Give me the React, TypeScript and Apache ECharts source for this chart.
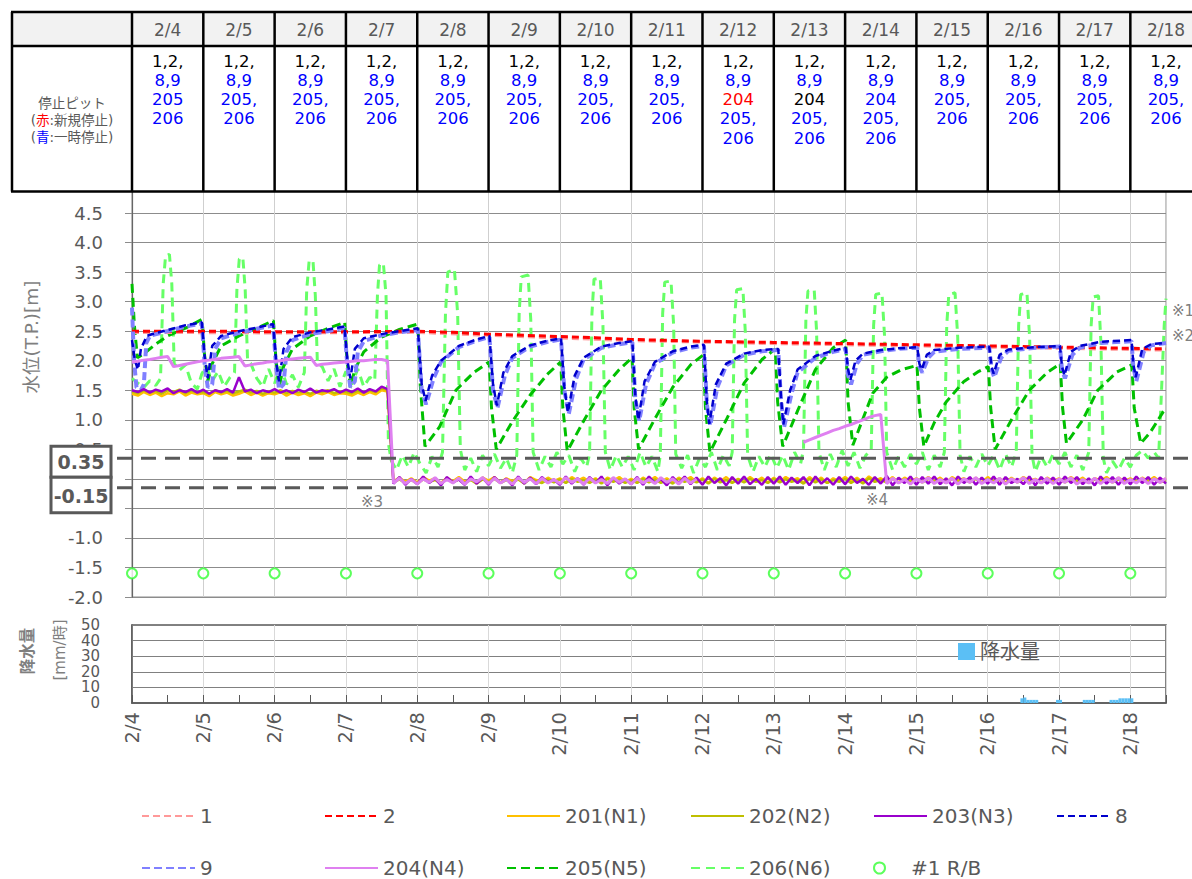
import React, { useEffect, useRef } from 'react';
import * as echarts from 'echarts';

const FONT = "'DejaVu Sans', 'Noto Sans CJK JP', sans-serif";
const LABEL = '#595959';

// ---- axis / table categories ----
const days = ['2/4', '2/5', '2/6', '2/7', '2/8', '2/9', '2/10', '2/11', '2/12', '2/13', '2/14', '2/15', '2/16', '2/17', '2/18'];
const dayHours = [0, 24, 48, 72, 96, 120, 144, 168, 192, 216, 240, 264, 288, 312, 336];
const X_MAX = 348; // hours from 2/4 00:00 (2/18 12:00)
const STEP = 2; // hours between values of the N-series arrays

// stop-pit table: [text, colour code]
const stopPits: [string, string][][] = [
  [['1,2,', 'k'], ['8,9', 'b'], ['205', 'b'], ['206', 'b']],
  [['1,2,', 'k'], ['8,9', 'b'], ['205,', 'b'], ['206', 'b']],
  [['1,2,', 'k'], ['8,9', 'b'], ['205,', 'b'], ['206', 'b']],
  [['1,2,', 'k'], ['8,9', 'b'], ['205,', 'b'], ['206', 'b']],
  [['1,2,', 'k'], ['8,9', 'b'], ['205,', 'b'], ['206', 'b']],
  [['1,2,', 'k'], ['8,9', 'b'], ['205,', 'b'], ['206', 'b']],
  [['1,2,', 'k'], ['8,9', 'b'], ['205,', 'b'], ['206', 'b']],
  [['1,2,', 'k'], ['8,9', 'b'], ['205,', 'b'], ['206', 'b']],
  [['1,2,', 'k'], ['8,9', 'b'], ['204', 'r'], ['205,', 'b'], ['206', 'b']],
  [['1,2,', 'k'], ['8,9', 'b'], ['204', 'k'], ['205,', 'b'], ['206', 'b']],
  [['1,2,', 'k'], ['8,9', 'b'], ['204', 'b'], ['205,', 'b'], ['206', 'b']],
  [['1,2,', 'k'], ['8,9', 'b'], ['205,', 'b'], ['206', 'b']],
  [['1,2,', 'k'], ['8,9', 'b'], ['205,', 'b'], ['206', 'b']],
  [['1,2,', 'k'], ['8,9', 'b'], ['205,', 'b'], ['206', 'b']],
  [['1,2,', 'k'], ['8,9', 'b'], ['205,', 'b'], ['206', 'b']],
];
const pitColor: Record<string, string> = { k: '#000000', b: '#0000ff', r: '#ff0000' };

// ---- water level series [hour, m] ----
const p1 = [[0, 2.48], [48, 2.47], [96, 2.48], [120, 2.43], [168, 2.34], [216, 2.29], [264, 2.25], [312, 2.21], [348, 2.18]];
const p2 = [[0, 2.5], [24, 2.5], [48, 2.49], [72, 2.49], [96, 2.5], [108, 2.48], [120, 2.45], [132, 2.43], [144, 2.41], [156, 2.39], [168, 2.36], [192, 2.33], [216, 2.31], [240, 2.29], [264, 2.27], [288, 2.25], [312, 2.23], [336, 2.21], [348, 2.2]];

const p8 = [
  [0, 2.35], [1, 2.0], [2, 1.85], [3, 2.2], [5, 2.42], [8, 2.47], [12, 2.52], [18, 2.6], [23.5, 2.65],
  [24.5, 2.05], [25.5, 1.7], [27, 2.25], [30, 2.42], [36, 2.5], [42, 2.56], [47.5, 2.62],
  [48.5, 2.0], [49.5, 1.65], [51, 2.2], [54, 2.4], [60, 2.48], [66, 2.53], [71.5, 2.58],
  [72.5, 2.0], [73.5, 1.7], [75, 2.2], [78, 2.38], [84, 2.45], [90, 2.5], [96.2, 2.55],
  [97.5, 1.6], [98.8, 1.32], [101, 1.75], [104, 2.0], [110, 2.25], [116, 2.36], [120.3, 2.42],
  [121.5, 1.6], [122.8, 1.24], [125, 1.8], [128, 2.08], [134, 2.26], [140, 2.34], [144.4, 2.38],
  [145.5, 1.55], [146.7, 1.13], [149, 1.75], [152, 2.05], [158, 2.24], [164, 2.3], [168.4, 2.33],
  [169.4, 1.4], [170.4, 1.0], [172.5, 1.65], [176, 1.98], [182, 2.16], [188, 2.24], [192.5, 2.27],
  [193.5, 1.3], [194.3, 0.93], [196.5, 1.6], [200, 1.95], [206, 2.12], [212, 2.18], [217.5, 2.2],
  [218.4, 1.4], [219.2, 0.92], [221.5, 1.5], [224, 1.85], [230, 2.08], [236, 2.17], [240.2, 2.22],
  [241, 1.85], [241.8, 1.68], [243.5, 2.0], [246, 2.12], [252, 2.18], [258, 2.21], [264.3, 2.23],
  [265, 1.95], [265.8, 1.85], [267.5, 2.1], [270, 2.18], [278, 2.22], [288.5, 2.24],
  [289.3, 1.9], [290, 1.78], [292, 2.1], [295, 2.19], [304, 2.23], [312.3, 2.25],
  [313, 1.9], [313.8, 1.75], [316, 2.15], [319, 2.25], [326, 2.32], [336.4, 2.35],
  [337, 1.95], [337.8, 1.72], [340, 2.2], [343, 2.28], [348, 2.3],
];

const p9 = [
  [0, 2.9], [0.7, 2.0], [1.5, 1.55], [3, 1.5], [4, 1.6], [4.8, 2.3], [6, 2.42], [12, 2.5], [18, 2.58], [23.5, 2.63],
  [24.5, 1.9], [25.5, 1.55], [27, 1.6], [28, 2.2], [30, 2.38], [36, 2.47], [42, 2.54], [47.5, 2.6],
  [48.5, 1.9], [49.5, 1.52], [51, 1.6], [52, 2.15], [54, 2.35], [60, 2.45], [66, 2.5], [71.5, 2.56],
  [72.5, 1.9], [73.5, 1.55], [75, 1.65], [76, 2.15], [78, 2.33], [84, 2.43], [90, 2.48], [96.2, 2.52],
  [97.5, 1.5], [99, 1.26], [101.5, 1.7], [104, 1.98], [110, 2.23], [116, 2.34], [120.3, 2.4],
  [121.5, 1.5], [123, 1.2], [125.5, 1.75], [128, 2.05], [134, 2.24], [140, 2.32], [144.4, 2.36],
  [145.5, 1.5], [147, 1.1], [149.5, 1.7], [152, 2.02], [158, 2.22], [164, 2.28], [168.4, 2.31],
  [169.4, 1.35], [170.7, 0.98], [173, 1.6], [176, 1.95], [182, 2.14], [188, 2.22], [192.5, 2.25],
  [193.5, 1.25], [194.6, 0.9], [197, 1.55], [200, 1.92], [206, 2.1], [212, 2.16], [217.5, 2.18],
  [218.4, 1.35], [219.5, 0.88], [222, 1.45], [224, 1.8], [230, 2.05], [236, 2.15], [240.2, 2.2],
  [241, 1.75], [242, 1.6], [244, 1.95], [246, 2.1], [252, 2.16], [258, 2.2], [264.3, 2.22],
  [265, 1.9], [266, 1.8], [268, 2.05], [270, 2.15], [278, 2.2], [288.5, 2.22],
  [289.3, 1.85], [290.2, 1.72], [292.5, 2.05], [295, 2.17], [304, 2.22], [312.3, 2.24],
  [313, 1.85], [314, 1.7], [316.5, 2.1], [319, 2.22], [326, 2.3], [336.4, 2.33],
  [337, 1.9], [338, 1.65], [340.5, 2.15], [343, 2.26], [348, 2.3],
];

const p205 = [
  [0, 3.3], [0.8, 2.6], [1.8, 2.05], [4, 2.12], [8, 2.28], [12, 2.42], [18, 2.55], [23.6, 2.7],
  [24.4, 2.1], [25.5, 1.65], [27, 1.95], [30, 2.25], [36, 2.42], [42, 2.55], [47.6, 2.68],
  [48.4, 2.05], [49.5, 1.55], [51, 1.9], [54, 2.2], [60, 2.42], [66, 2.55], [71.6, 2.65],
  [72.4, 2.0], [73.5, 1.55], [75, 1.85], [78, 2.15], [84, 2.4], [90, 2.53], [96.2, 2.62],
  [97, 1.6], [98.6, 0.55], [103.5, 0.88], [109, 1.5], [115, 1.8], [120.2, 1.98],
  [121, 1.2], [122.6, 0.5], [128, 0.97], [134, 1.42], [140, 1.78], [144.3, 1.98],
  [145, 1.2], [146.5, 0.47], [152, 0.98], [158, 1.5], [164, 1.85], [168.3, 2.05],
  [169, 1.2], [170.5, 0.5], [176, 1.02], [182, 1.55], [188, 1.93], [192.3, 2.1],
  [193, 1.2], [194.5, 0.45], [200, 1.0], [206, 1.62], [212, 2.02], [216.5, 2.2],
  [217.3, 1.3], [219, 0.55], [224, 1.15], [230, 1.85], [236, 2.22], [240.2, 2.35],
  [241, 1.3], [242.6, 0.57], [249.3, 1.45], [254, 1.72], [259, 1.85], [264.2, 1.92],
  [265, 1.2], [266.5, 0.55], [270, 0.95], [274, 1.3], [280, 1.65], [285, 1.82], [288.2, 1.9],
  [289, 1.2], [290.5, 0.5], [296, 1.0], [302, 1.5], [308, 1.8], [312.4, 1.95],
  [313.2, 1.2], [314.5, 0.6], [320, 1.0], [325, 1.5], [331.5, 1.81], [336.5, 1.93],
  [337.3, 1.2], [339.5, 0.6], [342.6, 0.78], [347, 1.13], [348, 1.18],
];

const p206 = [
  [0, 1.7], [2, 1.62], [4, 1.55], [6, 1.66], [8, 1.58], [9.6, 1.7], [10.5, 3.3], [11.3, 3.78], [12.6, 3.8], [13.4, 3.3], [14.2, 1.95], [16, 1.84], [18, 1.93], [20, 1.62], [22, 1.52], [23.5, 1.78],
  [25, 1.9], [27, 1.66], [29, 1.82], [31, 1.56], [33, 1.72], [34.5, 1.8], [35.3, 3.2], [36.1, 3.72], [37.3, 3.75], [38.1, 3.2], [38.9, 2.0], [40, 1.95], [42, 1.7], [44, 1.56], [46, 1.86],
  [48, 1.62], [50, 1.9], [52, 1.6], [54, 1.76], [56, 1.55], [58, 1.8], [58.8, 3.2], [59.6, 3.68], [60.9, 3.7], [61.7, 3.1], [62.4, 1.95], [64, 1.9], [66, 1.66], [68, 1.86], [70, 1.56],
  [72, 1.82], [74, 1.6], [76, 1.86], [78, 1.56], [80, 1.72], [81.7, 1.66], [82.6, 3.1], [83.3, 3.62], [84.6, 3.65], [85.5, 3.1], [86.3, 0.6], [87.2, 0.32],
  [89, 0.15], [91, 0.4], [93, 0.2], [95, 0.45], [97, 0.25], [99, 0.1], [101, 0.38], [103, 0.2], [104.5, 0.45], [105.5, 2.8], [106.3, 3.5], [108.5, 3.55], [109.6, 2.8], [110.5, 0.5], [112, 0.15], [114, 0.35], [116, 0.12], [118, 0.4], [120, 0.22],
  [122, 0.42], [124, 0.18], [126, 0.35], [128, 0.1], [129.5, 0.4], [130.3, 2.8], [131, 3.42], [133.3, 3.45], [134.2, 2.7], [135, 0.45], [137, 0.15], [139, 0.38], [141, 0.2], [143, 0.45],
  [145, 0.25], [147, 0.4], [149, 0.12], [151, 0.35], [153, 0.2], [154, 0.42], [154.8, 2.8], [155.5, 3.38], [157.6, 3.4], [158.5, 2.6], [159.3, 0.45], [161, 0.15], [163, 0.4], [165, 0.2], [167, 0.38],
  [169, 0.15], [171, 0.45], [173, 0.2], [175, 0.38], [177, 0.12], [177.8, 0.4], [178.6, 2.8], [179.3, 3.33], [181.4, 3.35], [182.3, 2.6], [183, 0.42], [185, 0.18], [187, 0.4], [189, 0.1], [191, 0.35],
  [193, 0.2], [195, 0.45], [197, 0.15], [199, 0.4], [201, 0.22], [202, 0.45], [202.8, 2.7], [203.5, 3.2], [205.6, 3.22], [206.4, 2.5], [207.2, 0.4], [209, 0.12], [211, 0.38], [213, 0.2], [215, 0.42],
  [217, 0.18], [219, 0.4], [221, 0.15], [223, 0.45], [225, 0.25], [226, 0.5], [226.8, 2.7], [227.5, 3.18], [229.6, 3.2], [230.4, 2.5], [231.2, 0.45], [233, 0.15], [235, 0.42], [237, 0.2], [239, 0.48],
  [241, 0.22], [243, 0.45], [245, 0.18], [247, 0.4], [248.8, 0.5], [249.6, 2.6], [250.3, 3.12], [252.4, 3.15], [253.3, 2.4], [254, 0.45], [256, 0.15], [258, 0.38], [260, 0.2], [262, 0.42],
  [264, 0.25], [266, 0.45], [268, 0.15], [270, 0.4], [272, 0.2], [273.4, 0.45], [274.2, 2.6], [274.9, 3.12], [277, 3.15], [277.9, 2.4], [278.7, 0.4], [280, 0.12], [282, 0.38], [284, 0.2], [286, 0.42],
  [288, 0.22], [290, 0.4], [292, 0.15], [294, 0.42], [296, 0.2], [297.6, 0.45], [298.4, 2.6], [299.1, 3.12], [301.2, 3.15], [302.1, 2.4], [302.9, 0.4], [304, 0.12], [306, 0.38], [308, 0.2], [310, 0.42],
  [312, 0.25], [314, 0.45], [316, 0.2], [318, 0.4], [320, 0.15], [322, 0.45], [322.8, 2.6], [323.5, 3.08], [325.3, 3.1], [326.1, 2.3], [326.9, 0.35], [328, 0.1], [330, 0.3], [332, 0.15], [334, 0.35],
  [336, 0.2], [338, 0.4], [340, 0.48], [342, 0.35], [344, 0.45], [345.5, 0.35], [346.5, 1.5], [347.4, 2.6], [348, 3.05],
];

// N-series, one value every STEP hours from 2/4 00:00 (one row per day)
const n201 = [
  1.44, 1.41, 1.47, 1.42, 1.46, 1.40, 1.45, 1.43, 1.48, 1.41, 1.46, 1.43,
  1.45, 1.40, 1.47, 1.43, 1.46, 1.41, 1.44, 1.48, 1.42, 1.46, 1.41, 1.45,
  1.43, 1.47, 1.41, 1.46, 1.42, 1.45, 1.40, 1.46, 1.43, 1.47, 1.42, 1.45,
  1.44, 1.41, 1.46, 1.42, 1.47, 1.43, 1.50, 1.48, -0.04, 0.02, -0.05, 0.01,
  -0.06, 0.03, -0.03, 0.01, -0.07, 0.02, -0.04, 0.03, -0.05, 0.00, -0.06, 0.02,
  -0.03, 0.03, -0.06, 0.01, -0.04, 0.02, -0.07, 0.03, -0.02, -0.05, 0.02, -0.04,
  0.01, -0.06, 0.03, -0.03, 0.02, -0.05, 0.01, -0.07, 0.02, -0.03, 0.03, -0.05,
  0.00, -0.06, 0.02, -0.04, 0.03, -0.05, 0.01, -0.06, 0.02, -0.03, 0.03, -0.05,
  0.01, -0.07, 0.02, -0.04, 0.03, -0.06, 0.00, -0.05, 0.03, -0.04, 0.02, -0.06,
  0.02, -0.05, 0.03, -0.03, 0.01, -0.06, 0.03, -0.04, 0.02, -0.07, 0.01, -0.04,
  0.03, -0.05, 0.02, -0.06, 0.04, -0.03, 0.01, -0.05, 0.03, -0.06, 0.02, -0.04,
  0.01, -0.05, 0.03, -0.04, 0.02, -0.06, 0.03, -0.03, 0.01, -0.05, 0.02, -0.06,
  0.03, -0.04, 0.01, -0.06, 0.02, -0.05, 0.03, -0.03, 0.00, -0.06, 0.02, -0.04,
  0.01, -0.05, 0.03, -0.04, 0.02, -0.06, 0.01, -0.03, 0.03, -0.05, 0.02, -0.04,
  0.01, -0.05, 0.02, -0.04, 0.03, -0.05, 0.01,
];
const n202 = [
  1.48, 1.45, 1.50, 1.46, 1.49, 1.44, 1.50, 1.47, 1.51, 1.45, 1.49, 1.46,
  1.47, 1.44, 1.50, 1.46, 1.49, 1.45, 1.48, 1.51, 1.46, 1.49, 1.44, 1.48,
  1.46, 1.50, 1.45, 1.49, 1.46, 1.48, 1.44, 1.49, 1.47, 1.50, 1.45, 1.48,
  1.47, 1.45, 1.49, 1.46, 1.50, 1.47, 1.53, 1.51, -0.06, -0.01, -0.07, -0.02,
  -0.08, -0.01, -0.05, -0.02, -0.08, 0.00, -0.06, -0.01, -0.07, -0.02, -0.08, -0.01,
  -0.05, 0.00, -0.07, -0.02, -0.06, -0.01, -0.08, 0.00, -0.04, -0.07, -0.01, -0.06,
  -0.01, -0.07, 0.00, -0.05, -0.02, -0.07, -0.01, -0.08, 0.00, -0.05, -0.01, -0.07,
  -0.02, -0.07, 0.00, -0.06, -0.01, -0.07, -0.02, -0.08, 0.00, -0.05, -0.01, -0.06,
  -0.01, -0.08, 0.00, -0.06, -0.02, -0.07, -0.01, -0.06, 0.00, -0.05, -0.02, -0.07,
  0.00, -0.06, -0.01, -0.05, -0.02, -0.08, 0.00, -0.06, -0.01, -0.07, -0.02, -0.05,
  0.00, -0.07, -0.01, -0.08, 0.01, -0.05, -0.02, -0.06, 0.00, -0.07, -0.01, -0.05,
  -0.01, -0.06, 0.00, -0.05, -0.02, -0.07, 0.00, -0.05, -0.01, -0.06, 0.00, -0.07,
  0.00, -0.05, -0.02, -0.07, 0.00, -0.06, -0.01, -0.05, -0.02, -0.07, 0.00, -0.06,
  -0.01, -0.06, 0.00, -0.05, -0.02, -0.07, -0.01, -0.05, 0.00, -0.06, -0.01, -0.05,
  -0.01, -0.06, 0.00, -0.05, -0.01, -0.06, -0.02,
];
const n203 = [
  1.50, 1.47, 1.52, 1.46, 1.51, 1.48, 1.53, 1.45, 1.50, 1.47, 1.52, 1.46,
  1.51, 1.44, 1.50, 1.47, 1.52, 1.46, 1.72, 1.48, 1.51, 1.45, 1.50, 1.47,
  1.52, 1.46, 1.50, 1.45, 1.51, 1.47, 1.53, 1.46, 1.50, 1.48, 1.52, 1.46,
  1.51, 1.47, 1.53, 1.46, 1.52, 1.48, 1.56, 1.52, -0.08, 0.03, -0.10, 0.00,
  -0.09, 0.04, -0.07, 0.01, -0.11, 0.03, -0.06, -0.01, -0.10, 0.04, -0.08, 0.02,
  -0.10, 0.03, -0.07, 0.00, -0.11, 0.04, -0.08, 0.02, -0.09, 0.03, -0.06, -0.01,
  -0.10, 0.04, -0.08, 0.01, -0.10, 0.03, -0.07, 0.04, -0.11, 0.02, -0.08, 0.00,
  -0.09, 0.03, -0.10, 0.04, -0.07, 0.00, -0.11, 0.03, -0.08, 0.04, -0.09, 0.02,
  -0.10, 0.04, -0.07, 0.01, -0.11, 0.03, -0.08, 0.04, -0.09, 0.00, -0.10, 0.03,
  -0.08, 0.04, -0.10, 0.02, -0.07, 0.03, -0.11, 0.04, -0.08, 0.01, -0.10, 0.03,
  -0.09, 0.04, -0.07, 0.00, -0.10, 0.03, -0.08, 0.05, -0.11, 0.02, -0.07, 0.04,
  -0.10, 0.03, -0.08, 0.04, -0.09, 0.01, -0.11, 0.04, -0.07, 0.03, -0.10, 0.02,
  -0.08, 0.04, -0.10, 0.03, -0.07, 0.00, -0.09, 0.04, -0.11, 0.03, -0.08, 0.02,
  -0.10, 0.04, -0.07, 0.03, -0.09, 0.01, -0.11, 0.04, -0.08, 0.03, -0.10, 0.02,
  -0.09, 0.04, -0.07, 0.03, -0.10, 0.02, -0.08,
];
const n204 = [
  1.98, 1.99, 2.01, 2.02, 2.04, 2.06, 2.07, 1.90, 1.92, 1.94, 1.96, 1.98,
  2.00, 2.01, 2.02, 2.04, 2.05, 2.06, 2.07, 1.91, 1.93, 1.95, 1.96, 1.98,
  1.99, 2.00, 2.02, 2.03, 2.04, 2.05, 2.06, 1.92, 1.94, 1.95, 1.96, 1.97,
  1.98, 1.99, 2.00, 2.00, 2.01, 2.02, 2.02, 2.00, -0.07, 0.01, -0.08, -0.01,
  -0.09, 0.00, -0.06, 0.02, -0.08, -0.01, -0.07, 0.01, -0.09, 0.00, -0.05, 0.02,
  -0.08, 0.01, -0.07, -0.01, -0.09, 0.02, -0.06, 0.00, -0.08, 0.01, -0.07, -0.01,
  -0.08, 0.02, -0.06, 0.00, -0.09, 0.01, -0.07, -0.01, -0.08, 0.02, -0.06, 0.00,
  -0.09, 0.01, -0.07, -0.01, -0.08, 0.02, -0.06, 0.00, -0.09, 0.01, -0.07, 0.00,
  null, null, null, null, null, null, null, null, null, null, null, null,
  null, null, null, null, null, 0.62, 0.66, 0.70, 0.74, 0.78, 0.82, 0.85,
  0.89, 0.92, 0.96, 1.00, 1.04, 1.07, 1.09, -0.08, 0.01, -0.07, -0.01, -0.09,
  0.00, -0.06, 0.02, -0.08, -0.01, -0.07, 0.01, -0.09, 0.00, -0.06, 0.02, -0.08,
  -0.01, -0.07, 0.01, -0.09, 0.00, -0.06, 0.02, -0.08, -0.01, -0.07, 0.01, -0.08,
  0.00, -0.06, 0.02, -0.09, -0.01, -0.07, 0.01, -0.08, 0.00, -0.06, 0.02, -0.08,
  -0.01, -0.07, 0.01, -0.08, 0.00, -0.06, 0.01,
];

// #1 R/B
const rbHours = [0, 24, 48, 72, 96, 120, 144, 168, 192, 216, 240, 264, 288, 312, 336];
const rbValues = [-1.6, -1.6, -1.6, -1.6, -1.6, -1.6, -1.6, -1.6, -1.6, -1.6, -1.6, -1.6, -1.6, -1.6, -1.6];

// rainfall [hour centre, mm/h]
const rainHours = [299.5, 300.5, 301.5, 302.5, 303.5, 304.5, 311.5, 312.5, 320.5, 321.5, 322.5, 323.5, 329.5, 330.5, 331.5, 332.5, 333.5, 334.5, 335.5, 336.5];
const rainValues = [3, 3.5, 2, 2, 2, 2, 2, 2, 2, 2, 2, 2, 2, 2, 2, 3, 3, 3, 3, 3];

const mainTicks = { min: -2, max: 5, interval: 0.5 };
const rainTicks = { min: 0, max: 50, interval: 10 };

const toPairs = (arr: (number | null)[]) => arr.map((v, i) => [i * STEP, v]);

function line(name: string, data: any[], color: string, width: number, type: any, z = 2) {
  return {
    name, type: 'line', data, xAxisIndex: 0, yAxisIndex: 0, symbol: 'none', showSymbol: false,
    connectNulls: false, silent: true, z,
    lineStyle: { color, width, type }, itemStyle: { color },
  };
}

const legendPos: [string, number, number][] = [
  ['1', 141, 806], ['2', 324, 806], ['201(N1)', 506, 806], ['202(N2)', 690, 806], ['203(N3)', 873, 806], ['8', 1056, 806],
  ['9', 141, 858], ['204(N4)', 324, 858], ['205(N5)', 506, 858], ['206(N6)', 690, 858], ['#1 R/B', 873, 858],
];

function buildOption() {
  const legends: any[] = legendPos.map(([name, left, top]) => {
    const isRB = name === '#1 R/B';
    return {
      data: [name], left, top, padding: 0, orient: 'horizontal',
      itemWidth: 53, itemHeight: isRB ? 11 : 14,
      lineStyle: { width: 2 },
      itemStyle: isRB ? {} : { opacity: 0 },
      textStyle: { fontSize: 20, color: LABEL, fontFamily: FONT },
      selectedMode: false,
    };
  });
  legends.push({
    data: [{ name: '降水量', icon: 'rect' }], left: 958, top: 641.5, padding: 0,
    itemWidth: 17, itemHeight: 17, selectedMode: false,
    textStyle: { fontSize: 20, color: LABEL, fontFamily: FONT },
  });

  return {
    animation: false,
    backgroundColor: '#ffffff',
    textStyle: { fontFamily: FONT },
    legend: legends,
    grid: [
      { left: 132, right: 26, top: 183.5, bottom: 282, show: true, borderColor: '#8c8c8c', borderWidth: 1 },
      { left: 132, right: 26, top: 625, bottom: 176, show: true, borderColor: '#595959', borderWidth: 1.5 },
    ],
    xAxis: [
      {
        type: 'value', gridIndex: 0, min: 0, max: X_MAX, interval: 24,
        axisLabel: { show: false }, axisLine: { show: false }, axisTick: { show: false },
        splitLine: { show: true, lineStyle: { color: '#cfcfcf', width: 1 } },
      },
      {
        type: 'value', gridIndex: 1, min: 0, max: X_MAX, interval: 24, position: 'bottom',
        axisLine: { show: true, onZero: false, lineStyle: { color: '#595959', width: 1.5 } },
        axisTick: { show: false },
        splitLine: { show: true, lineStyle: { color: '#d9d9d9', width: 1 } },
        axisLabel: {
          rotate: 90, margin: 9, fontSize: 19.5, color: LABEL, fontFamily: FONT,
          formatter: (v: number) => (days[dayHours.indexOf(v)] ?? ''),
        },
      },
      {
        type: 'value', gridIndex: 1, min: 0, max: X_MAX, interval: 12, position: 'bottom',
        axisLine: { show: false, onZero: false }, axisLabel: { show: false }, splitLine: { show: false },
        axisTick: { show: true, inside: true, length: 8, lineStyle: { color: '#595959', width: 1 } },
      },
    ],
    yAxis: [
      {
        type: 'value', gridIndex: 0, ...mainTicks,
        axisLine: { show: true, lineStyle: { color: '#666666', width: 1.2 } },
        axisTick: { show: true, length: 7, lineStyle: { color: '#8c8c8c' } },
        splitLine: { show: true, lineStyle: { color: '#8c8c8c', width: 1 } },
        axisLabel: {
          fontSize: 18, color: LABEL, margin: 29, fontFamily: FONT,
          // 5.0 lies under the table; 0.0 and -0.5 lie under the level boxes
          formatter: (v: number) => (v > 4.6 || v === 0 || v === -0.5 ? '' : v.toFixed(1)),
        },
      },
      {
        type: 'value', gridIndex: 1, ...rainTicks,
        axisLine: { show: true, lineStyle: { color: '#595959', width: 1.5 } },
        axisTick: { show: false },
        splitLine: { show: true, lineStyle: { color: '#808080', width: 1 } },
        axisLabel: {
          fontSize: 15, lineHeight: 13, color: LABEL, margin: 32, fontFamily: FONT, interval: 0,
          showMinLabel: true, showMaxLabel: true, hideOverlap: false,
        },
      },
    ],
    series: [
      line('206(N6)', p206, '#66ff66', 3, [9, 6]),
      line('205(N5)', p205, '#00c000', 3, [9, 5]),
      line('1', p1, '#ff9999', 3, [7, 4]),
      line('2', p2, '#ff0000', 3, [7, 4]),
      line('9', p9, '#8080ff', 4, [8, 4]),
      line('8', p8, '#0000cc', 2.5, [7, 4]),
      line('201(N1)', toPairs(n201), '#ffc000', 2.5, 'solid'),
      line('202(N2)', toPairs(n202), '#bfbf00', 2.5, 'solid'),
      line('203(N3)', toPairs(n203), '#9900cc', 2.5, 'solid'),
      line('204(N4)', toPairs(n204), '#df80f0', 3, 'solid'),
      {
        name: '#1 R/B', type: 'scatter', xAxisIndex: 0, yAxisIndex: 0, silent: true, z: 3,
        data: rbHours.map((h, i) => [h, rbValues[i]]),
        symbol: 'emptyCircle', symbolSize: 10,
        itemStyle: { color: '#33ff33', borderColor: '#33ff33', borderWidth: 1.5 },
      },
      {
        name: '降水量', type: 'bar', xAxisIndex: 1, yAxisIndex: 1, silent: true,
        data: rainHours.map((h, i) => [h, rainValues[i]]), barWidth: 3,
        itemStyle: { color: '#5bbff5' },
      },
    ],
  };
}

function buildGraphics(px: (h: number) => number, py: (v: number) => number) {
  const Z = 50;
  const g: any[] = [];
  const txt = (x: number, y: number, text: string, s: any = {}, extra: any = {}) => ({
    type: 'text', z: Z + 3, x, y, ...extra,
    style: {
      text, fontFamily: FONT, fill: LABEL, fontSize: 16,
      align: 'center', verticalAlign: 'middle', textAlign: 'center', textVerticalAlign: 'middle', ...s,
    },
  });

  // --- table ---
  const tLeft = 12, tRight = 1204, yTop = 12, yHead = 46, yBot = 191.5;
  g.push({ type: 'rect', z: Z, shape: { x: tLeft, y: yTop, width: tRight - tLeft, height: yHead - yTop }, style: { fill: '#f2f2f2' } });
  g.push({ type: 'rect', z: Z, shape: { x: tLeft, y: yHead, width: tRight - tLeft, height: yBot - yHead }, style: { fill: '#ffffff' } });
  [yTop, yHead, yBot].forEach((y) => g.push({ type: 'line', z: Z + 2, shape: { x1: tLeft - 1, y1: y, x2: tRight, y2: y }, style: { stroke: '#000', lineWidth: 2.5 } }));
  const colX = [tLeft, ...dayHours.map((h) => px(h))];
  colX.forEach((x) => g.push({ type: 'line', z: Z + 2, shape: { x1: x, y1: yTop, x2: x, y2: yBot }, style: { stroke: '#000', lineWidth: 2.5 } }));
  days.forEach((d, i) => {
    const cx = (px(dayHours[i]) + px(dayHours[i] + 24)) / 2;
    g.push(txt(cx, 29.5, d, { fontSize: 17, fill: LABEL }));
    stopPits[i].forEach(([t, c], k) => g.push(txt(cx, 61 + 19.3 * k, t, { fontSize: 16.5, fill: pitColor[c] })));
  });
  const lx = (tLeft + px(0)) / 2;
  g.push(txt(lx, 103, '停止ピット', { fontSize: 13.5 }));
  g.push(txt(lx, 120, '({r|赤}:新規停止)', { fontSize: 13.5, rich: { r: { fill: '#ff0000', fontSize: 13.5, fontFamily: FONT } } }));
  g.push(txt(lx, 137, '({b|青}:一時停止)', { fontSize: 13.5, rich: { b: { fill: '#0000ff', fontSize: 13.5, fontFamily: FONT } } }));

  // --- management levels ---
  const yA = py(0.35), yB = py(-0.15);
  [yA, yB].forEach((y) => g.push({ type: 'line', z: Z + 1, shape: { x1: 117, y1: y, x2: 1192, y2: y }, style: { stroke: '#595959', lineWidth: 3, lineDash: [15, 9] } }));
  g.push({ type: 'rect', z: Z + 2, shape: { x: 51, y: yA - 12, width: 60, height: 31 }, style: { fill: '#fff', stroke: '#595959', lineWidth: 3 } });
  g.push({ type: 'rect', z: Z + 2, shape: { x: 51, y: yA + 19, width: 60, height: yB + 25 - (yA + 19) }, style: { fill: '#fff', stroke: '#595959', lineWidth: 3 } });
  g.push(txt(81, yA + 4, '0.35', { fontSize: 19, fontWeight: 'bold' }));
  g.push(txt(81, yB + 8, '-0.15', { fontSize: 19, fontWeight: 'bold' }));

  // --- notes ---
  const note = { fontSize: 15, fill: '#808080', align: 'left', textAlign: 'left' };
  g.push(txt(1172, 311, '※1', note));
  g.push(txt(1172, 336, '※2', note));
  g.push(txt(361, 502, '※3', note));
  g.push(txt(866, 500, '※4', note));

  // --- axis titles ---
  g.push(txt(31, 337, '水位(T.P.)[m]', { fontSize: 18.5, fill: '#7f7f7f' }, { rotation: Math.PI / 2 }));
  g.push(txt(28, 651, '降水量', { fontSize: 15.5, fill: '#7f7f7f', fontWeight: 'bold' }, { rotation: Math.PI / 2 }));
  g.push(txt(60, 650, '[mm/時]', { fontSize: 15, fill: '#7f7f7f' }, { rotation: Math.PI / 2 }));
  return g;
}

export default function App() {
  const ref = useRef<HTMLDivElement>(null);
  useEffect(() => {
    const el = ref.current;
    if (!el) return;
    const chart = echarts.init(el, null, { renderer: 'svg' });
    chart.setOption(buildOption() as any);
    const px = (h: number) => chart.convertToPixel({ xAxisIndex: 0 }, h) as number;
    const py = (v: number) => chart.convertToPixel({ yAxisIndex: 0 }, v) as number;
    chart.setOption({ graphic: { elements: buildGraphics(px, py) } } as any);
    return () => chart.dispose();
  }, []);
  return (
    <div
      ref={ref}
      style={{ position: 'fixed', left: 0, top: 0, width: 1192, height: 879, background: '#fff' }}
    />
  );
}
